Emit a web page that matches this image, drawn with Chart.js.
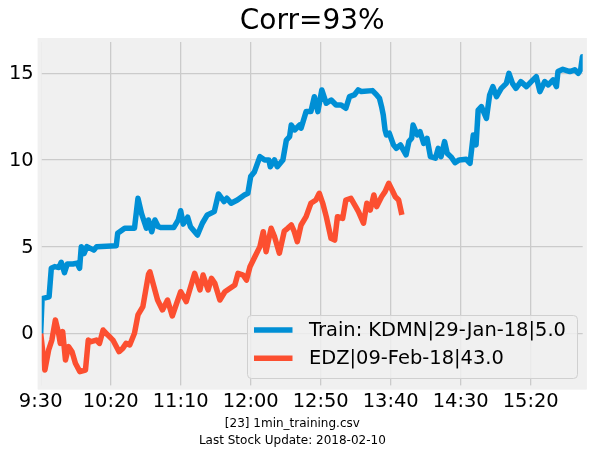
<!DOCTYPE html>
<html>
<head>
<meta charset="utf-8">
<script src="https://cdn.jsdelivr.net/npm/chart.js@4.4.1/dist/chart.umd.min.js"></script>
<style>
  html, body { margin: 0; padding: 0; background: #ffffff; }
  #wrap { width: 595px; height: 458px; }
</style>
</head>
<body>
<div id="wrap"><canvas id="c" width="595" height="458"></canvas></div>
<script>
// ---- data (minutes after 9:30 and values) ----
const chartTitle = 'Corr=93%';
const footerLines = ['[23] 1min_training.csv', 'Last Stock Update: 2018-02-10'];
const seriesLabels = ['Train: KDMN|29-Jan-18|5.0', 'EDZ|09-Feb-18|43.0'];

const xTickMinutes = [0, 50, 100, 150, 200, 250, 300, 350];
const xTickLabels = ['9:30', '10:20', '11:10', '12:00', '12:50', '13:40', '14:30', '15:20'];
const yTickValues = [0, 5, 10, 15];

const blueMinutes = [0, 1, 6, 7.6, 10, 13, 14.7, 17, 19, 23, 26, 27.8, 29, 31, 33, 38, 40, 54, 55, 60, 67,
  69.5, 72, 75.5, 77, 79.3, 81.6, 84, 86, 95, 98.3, 100, 101.8, 105, 107, 112, 115.5, 119, 124, 127,
  131, 133, 136, 140.5, 145.5, 148, 150, 152.6, 156.6, 160, 163, 164, 167, 169, 173, 175.5, 177.8, 179,
  181.4, 185, 186, 189.6, 193, 195.5, 198, 200.8, 204, 207.5, 211, 214.6, 218, 220.6, 224, 226.8, 229,
  237, 240, 242, 243.5, 244.7, 246, 247, 249, 252, 254, 257, 261, 263, 265, 266, 269, 271, 273.6, 276,
  278.4, 282, 284, 286, 288.5, 290.4, 293, 296, 299, 304, 306.7, 309, 311, 312.5, 314.8, 318.4, 320.7,
  323, 325.6, 329, 332.6, 334.5, 337, 339.5, 343, 347, 350.4, 354, 356.6, 360, 362.6, 366, 368.4, 369.5,
  373, 378, 381.5, 384, 385.7, 387, 388];
const blueValues = [0, 2.0, 2.1, 3.75, 3.85, 3.8, 4.1, 3.5, 4.0, 4.0, 4.05, 3.75, 5.0, 4.6, 5.0, 4.8, 5.0, 5.05, 5.77, 6.06, 6.06,
  7.79, 6.92, 6.06, 6.54, 5.86, 6.54, 6.15, 6.1, 6.1, 6.54, 7.07, 6.3, 6.7, 6.15, 5.67, 6.35, 6.83, 7.02, 8.04,
  7.6, 7.79, 7.5, 7.69, 7.98, 8.08, 9.04, 9.3, 10.19, 10.0, 10.0, 9.61, 10.0, 9.61, 10.0, 11.15, 11.35, 12.02,
  11.73, 12.02, 11.83, 12.79, 12.79, 13.65, 12.79, 14.04, 13.27, 13.46, 13.17, 13.17, 12.98, 13.65, 13.75, 14.04, 13.95,
  14.0, 13.75, 13.56, 13.08, 12.6, 11.73, 11.44, 11.54, 10.87, 10.67, 10.87, 10.29, 11.06, 11.25, 12.02, 11.44, 11.63, 10.96, 11.25,
  10.19, 10.1, 10.67, 10.19, 11.06, 10.38, 10.19, 9.85, 10.0, 10.04, 9.81, 11.44, 10.87, 12.88, 13.08, 12.4, 13.75,
  14.23, 13.65, 14.13, 14.42, 15.0, 14.42, 14.13, 14.52, 14.23, 14.52, 14.81, 13.94, 14.52, 14.33, 14.62, 14.23, 15.1,
  15.23, 15.1, 15.2, 15.0, 15.2, 15.96, 15.95];

const redMinutes = [0, 3, 5.7, 8, 10.5, 12.8, 14, 15.7, 17.7, 20, 22.4, 24.8, 28, 32, 34, 36, 39.8, 42, 44.6, 48,
  51.6, 56, 58.6, 61, 63.6, 67, 69.5, 73, 77, 78, 83.5, 87, 90.6, 94, 100, 104, 110, 113.8, 116, 119.6,
  122, 124.4, 128, 131.6, 138.7, 141, 144.6, 147, 149.5, 153, 156.6, 159, 161, 164.6, 167, 170.5, 174, 176.4,
  179, 181, 183.3, 186, 189.6, 193, 196.6, 199, 201.5, 204, 207.4, 210, 212, 215.7, 218, 221.6, 225, 227,
  230.6, 233, 235.4, 238, 240, 243.5, 246, 248.6, 251, 253.3, 255.7, 258];
const redValues = [0, -2.12, -0.96, -0.39, 0.77, 0, -0.58, 0.1, -1.54, -0.77, -1.06, -1.73, -2.21, -2.12, -0.39, -0.48, -0.39, -0.58, 0.19, -0.1,
  -0.39, -1.06, -0.87, -0.58, -0.67, 0, 1.06, 1.54, 3.4, 3.55, 1.92, 1.35, 1.92, 1.0, 2.4, 1.83, 3.46, 2.5, 3.36, 2.5,
  3.17, 2.88, 1.92, 2.4, 2.79, 3.46, 3.36, 3.07, 3.84, 4.42, 5.0, 5.86, 4.71, 6.06, 5.58, 4.62, 5.9, 6.06,
  6.25, 5.9, 5.29, 6.25, 6.73, 7.5, 7.69, 8.08, 7.5, 6.73, 5.48, 5.38, 6.73, 6.63, 7.69, 7.79, 7.31, 7.02,
  6.35, 7.5, 7.11, 7.98, 7.31, 7.88, 8.17, 8.65, 8.27, 7.88, 7.69, 6.83];

const seriesColors = ['#008fd5', '#fc4f30'];

// ---- build ----
const toPoints = (xs, ys) => xs.map((x, i) => ({ x: x, y: ys[i] }));
const FONT = 'DejaVu Sans';
const BASE = 19.44;
const AXBG = '#f0f0f0';
const SPINE = 4;

const bgPlugin = {
  id: 'axesBg',
  beforeDraw(chart) {
    const a = chart.chartArea, ctx = chart.ctx, h = SPINE / 2;
    ctx.save();
    ctx.fillStyle = AXBG;
    ctx.fillRect(a.left - h, a.top - h, a.right - a.left + SPINE, a.bottom - a.top + SPINE);
    ctx.restore();
  },
  afterDatasetsDraw(chart) {
    // thick spines in the background colour (fivethirtyeight style)
    const a = chart.chartArea, ctx = chart.ctx;
    ctx.save();
    ctx.strokeStyle = AXBG;
    ctx.lineWidth = SPINE;
    ctx.strokeRect(a.left, a.top, a.right - a.left, a.bottom - a.top);
    ctx.restore();
  }
};

const legendPlugin = {
  id: 'mplLegend',
  afterDraw(chart) {
    const ctx = chart.ctx;
    const a = chart.chartArea;
    const w = 330, h = 63;
    const x0 = Math.round(a.right - 7.7 - w) + 0.5, y0 = Math.round(a.bottom - 9.4 - h) + 0.5;
    ctx.save();
    ctx.beginPath();
    ctx.roundRect(x0, y0, w, h, 4);
    ctx.fillStyle = 'rgba(240,240,240,0.85)';
    ctx.fill();
    ctx.strokeStyle = '#d0d0d0';
    ctx.lineWidth = 1;
    ctx.stroke();
    chart.data.datasets.forEach((ds, i) => {
      const yy = y0 + 14.5 + i * 28.3;
      ctx.beginPath();
      ctx.moveTo(x0 + 6.5, yy);
      ctx.lineTo(x0 + 45, yy);
      ctx.strokeStyle = ds.borderColor;
      ctx.lineWidth = 5.5;
      ctx.lineCap = 'butt';
      ctx.stroke();
      ctx.fillStyle = '#000000';
      ctx.font = BASE + 'px "' + FONT + '"';
      ctx.textBaseline = 'middle';
      ctx.textAlign = 'left';
      ctx.fillText(ds.label, x0 + 61.5, yy + 1);
    });
    ctx.restore();
  }
};

new Chart(document.getElementById('c'), {
  type: 'line',
  data: {
    datasets: [
      { label: seriesLabels[0], data: toPoints(blueMinutes, blueValues), borderColor: seriesColors[0],
        backgroundColor: seriesColors[0], borderWidth: 5.5, pointRadius: 0, tension: 0, fill: false,
        borderJoinStyle: 'round', borderCapStyle: 'butt', clip: 0 },
      { label: seriesLabels[1], data: toPoints(redMinutes, redValues), borderColor: seriesColors[1],
        backgroundColor: seriesColors[1], borderWidth: 5.5, pointRadius: 0, tension: 0, fill: false,
        borderJoinStyle: 'round', borderCapStyle: 'butt', clip: 0 }
    ]
  },
  options: {
    responsive: false,
    animation: false,
    devicePixelRatio: 1,
    layout: { padding: { left: 0, right: 10.3, top: 0, bottom: 0 } },
    plugins: {
      legend: { display: false },
      tooltip: { enabled: false },
      title: {
        display: true, text: chartTitle, fullSize: false, color: '#000000',
        font: { family: FONT, size: 28, weight: 'normal', lineHeight: 1.2 },
        padding: { top: 4.9, bottom: 1.5 }
      },
      subtitle: {
        display: true, text: footerLines, position: 'bottom', fullSize: true, color: '#000000',
        font: { family: FONT, size: 12, weight: 'normal', lineHeight: 1.375 },
        padding: { top: 0, bottom: 9.25 }
      }
    },
    scales: {
      x: {
        type: 'linear', min: -0.7, max: 388.6,
        afterBuildTicks(s) { s.ticks = xTickMinutes.map(v => ({ value: v })); },
        afterFit(s) { s.height = 28.35; },
        ticks: {
          autoSkip: false, maxRotation: 0, minRotation: 0, padding: 3, color: '#000000',
          font: { family: FONT, size: BASE },
          callback: (v) => { const i = xTickMinutes.indexOf(v); return i >= 0 ? xTickLabels[i] : ''; }
        },
        grid: { color: '#cbcbcb', lineWidth: 1.3, drawTicks: false },
        border: { display: false }
      },
      y: {
        type: 'linear', min: -3.12, max: 16.92,
        afterBuildTicks(s) { s.ticks = yTickValues.map(v => ({ value: v })); },
        afterFit(s) { s.width = 39.7; },
        ticks: {
          padding: 6, labelOffset: 1, color: '#000000',
          font: { family: FONT, size: BASE },
          callback: (v) => String(v)
        },
        grid: { color: '#cbcbcb', lineWidth: 1.3, drawTicks: false },
        border: { display: false }
      }
    }
  },
  plugins: [bgPlugin, legendPlugin]
});
</script>
</body>
</html>
